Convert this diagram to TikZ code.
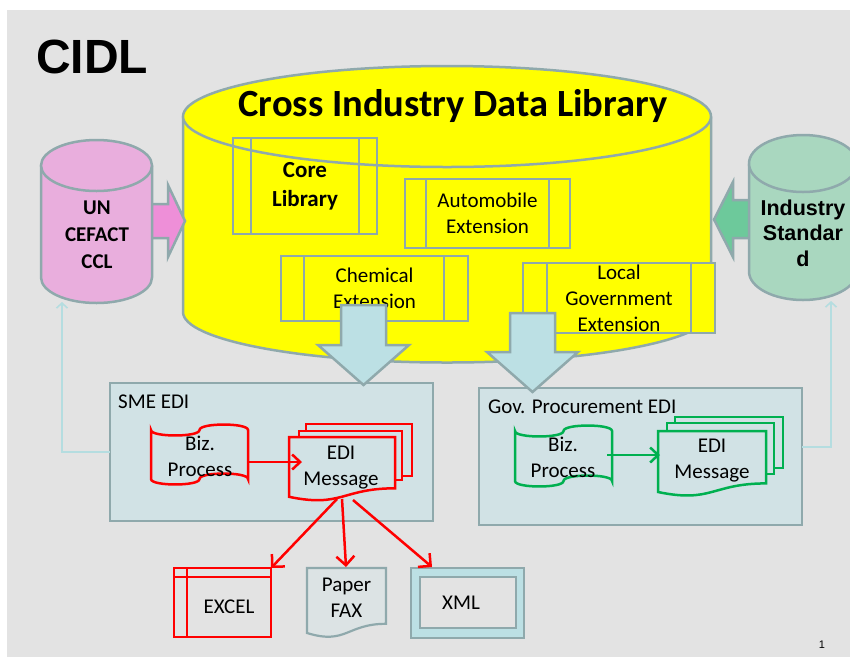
\documentclass[tikz,border=0pt]{standalone}
\usepackage{fontspec}
\setmainfont{Carlito}
\newfontfamily\arialfont{Liberation Sans}
\usetikzlibrary{arrows.meta}

\definecolor{slide}{HTML}{E3E3E3}
\definecolor{rim}{HTML}{8FA9AC}
\definecolor{libyellow}{HTML}{FFFF00}
\definecolor{ccl}{HTML}{E9AEDD}
\definecolor{cclarrow}{HTML}{EE8FD8}
\definecolor{indcyl}{HTML}{A9D7BF}
\definecolor{indarrow}{HTML}{6DC99B}
\definecolor{flowblue}{HTML}{BCE0E4}
\definecolor{edibox}{HTML}{D1E2E5}
\definecolor{edigreen}{HTML}{00B050}
\definecolor{feedback}{HTML}{B5DDE0}
\definecolor{paper}{HTML}{DCE3E4}

\begin{document}
\begin{tikzpicture}[x=1pt,y=-1pt,
  rimline/.style={draw=rim, line width=2.5pt},
  body/.style={font=\fontsize{21}{26}\selectfont, align=center, inner sep=0pt},
  bodybold/.style={font=\bfseries\fontsize{21}{27}\selectfont, align=center, inner sep=0pt},
  libbox/.style={rimline, fill=libyellow, inner sep=0pt, outer sep=0pt, align=center,
                 font=\fontsize{21}{26}\selectfont},
  edipanel/.style={rimline, fill=edibox, inner sep=0pt, outer sep=0pt},
  redline/.style={draw=red, line width=2.5pt},
  greenline/.style={draw=edigreen, line width=2.5pt},
  redarrow/.style={red, line width=2.5pt, -{Straight Barb[length=9pt,width=18pt]}},
  backlink/.style={feedback, line width=1.6pt, -{Straight Barb[length=5pt,width=11pt]}},
  bigarrow/.style={rimline, fill=flowblue}
]
\useasboundingbox (0,0) rectangle (850,657);
\fill[white] (0,0) rectangle (850,657);
\fill[slide] (7,10) rectangle (850,657);

% slide title
\node[font=\arialfont\bfseries\fontsize{48}{50}\selectfont, inner sep=0pt] (cidl) at (92,57) {CIDL};

% ---------- Cross Industry Data Library cylinder ----------
\fill[libyellow] (183,116.5) -- (183,312)
  arc[start angle=180, end angle=0, x radius=264, y radius=50.5] -- (711,116.5) -- cycle;
\draw[rimline] (183,116.5) -- (183,312)
  arc[start angle=180, end angle=0, x radius=264, y radius=50.5] -- (711,116.5);
\fill[libyellow] (447,116.5) ellipse[x radius=264, y radius=50.5];

\node[libbox, minimum width=144pt, minimum height=96pt, font=\bfseries\fontsize{23}{29}\selectfont]
  (core) at (305,186) {Core\\Library};
\node[libbox, minimum width=165pt, minimum height=69pt] (auto) at (487.5,213.5) {Automobile\\Extension};
\node[libbox, minimum width=187pt, minimum height=65pt] (chem) at (374.5,288.5) {Chemical\\Extension};
\node[libbox, minimum width=192pt, minimum height=70pt] (local) at (619,298) {Local\\Government\\Extension};

\draw[rimline] ([xshift=18pt]core.north west) -- ([xshift=18pt]core.south west)
               ([xshift=-18pt]core.north east) -- ([xshift=-18pt]core.south east);
\draw[rimline] ([xshift=21pt]auto.north west) -- ([xshift=21pt]auto.south west)
               ([xshift=-21pt]auto.north east) -- ([xshift=-21pt]auto.south east);
\draw[rimline] ([xshift=23pt]chem.north west) -- ([xshift=23pt]chem.south west)
               ([xshift=-24pt]chem.north east) -- ([xshift=-24pt]chem.south east);
\draw[rimline] ([xshift=24pt]local.north west) -- ([xshift=24pt]local.south west)
               ([xshift=-24pt]local.north east) -- ([xshift=-24pt]local.south east);

\draw[rimline] (447,116.5) ellipse[x radius=264, y radius=50.5];
\node[font=\bfseries\fontsize{38.5}{41}\selectfont, inner sep=0pt] (cidltitle) at (453,106)
  {Cross Industry Data Library};

% ---------- UN/CEFACT CCL cylinder and its arrow ----------
\draw[rimline, fill=cclarrow] (150,204) -- (168,204) -- (168,185) -- (185,221)
  -- (168,257) -- (168,238) -- (150,238);
\fill[ccl] (41,165.5) -- (41,277.5)
  arc[start angle=180, end angle=0, x radius=55.5, y radius=25.5] -- (152,165.5) -- cycle;
\draw[rimline] (41,165.5) -- (41,277.5)
  arc[start angle=180, end angle=0, x radius=55.5, y radius=25.5] -- (152,165.5);
\draw[rimline, fill=ccl] (96.5,165.5) ellipse[x radius=55.5, y radius=25.5];
\node[bodybold] (ccltext) at (97,235) {UN\\CEFACT\\CCL};
\coordinate (cclbottom) at (62,302);

% ---------- Industry Standard cylinder and its arrow ----------
\draw[rimline, fill=indarrow] (751,200) -- (733,200) -- (733,182) -- (714,219.5)
  -- (733,257) -- (733,238) -- (751,238);
\begin{scope}
\clip (7,10) rectangle (850,657);
\fill[indcyl] (749,163.5) -- (749,271.5)
  arc[start angle=180, end angle=0, x radius=54, y radius=28.5] -- (857,163.5) -- cycle;
\draw[rimline] (749,163.5) -- (749,271.5)
  arc[start angle=180, end angle=0, x radius=54, y radius=28.5] -- (857,163.5);
\draw[rimline, fill=indcyl] (803,163.5) ellipse[x radius=54, y radius=28.5];
\end{scope}
\node[font=\arialfont\bfseries\fontsize{21.5}{25.5}\selectfont, align=center, inner sep=0pt]
  (indtext) at (803,233) {Industry\\Standar\\d};
\coordinate (indbottom) at (831,301);

% ---------- EDI panels ----------
\node[edipanel, minimum width=323pt, minimum height=138pt] (sme) at (271.5,452) {};
\node[edipanel, minimum width=323pt, minimum height=137pt] (gov) at (640.5,456.5) {};
\node[body, anchor=west] (smelabel) at (118,402) {SME EDI};
\node[body, anchor=west] (govlabel) at (488,407) {Gov. Procurement EDI};

% flow from the library into the EDI panels
\draw[bigarrow] (341,305) -- (386,305) -- (386,345) -- (409,345) -- (363.5,385)
  -- (318,345) -- (341,345) -- cycle;
\draw[bigarrow] (510,313) -- (555,313) -- (555,352) -- (578,352) -- (532.5,392)
  -- (487,352) -- (510,352) -- cycle;

% feedback links to the source libraries
\coordinate (govright) at (802,447);
\draw[backlink] (sme.west) -| (cclbottom);
\draw[backlink] (govright) -| (indbottom);

% ---------- SME EDI content (red) ----------
\draw[redline, fill=edibox] (151,430) .. controls (151,437.3) and (199.5,437.3) .. (199.5,430)
  .. controls (199.5,422.7) and (248,422.7) .. (248,430) -- (248,479)
  .. controls (248,471.7) and (199.5,471.7) .. (199.5,479)
  .. controls (199.5,486.3) and (151,486.3) .. (151,479) -- cycle;
\node[body] (smebiz) at (200,456.5) {Biz.\\Process};

\draw[redline, fill=edibox] (306,424) rectangle (412,476);
\draw[redline, fill=edibox] (299,431) rectangle (402,480);
\draw[redline, fill=edibox] (289,437) -- (395,437) -- (395,488.3)
  .. controls (342,488.3) and (342,507.9) .. (289,496.8) -- cycle;
\node[body] (smemsg) at (341,467.5) {EDI\\Message};

\coordinate (smebizout) at (248,462);
\coordinate (smemsgin) at (302,462);
\draw[red, line width=2.5pt, -{Straight Barb[length=8pt,width=15pt]}] (smebizout) -- (smemsgin);

% ---------- Gov. Procurement EDI content (green) ----------
\draw[greenline, fill=edibox] (515,431) .. controls (515,438.3) and (563.5,438.3) .. (563.5,431)
  .. controls (563.5,423.7) and (612,423.7) .. (612,431) -- (612,481)
  .. controls (612,473.7) and (563.5,473.7) .. (563.5,481)
  .. controls (563.5,488.3) and (515,488.3) .. (515,481) -- cycle;
\node[body] (govbiz) at (563,457) {Biz.\\Process};

\draw[greenline, fill=edibox] (675,417) rectangle (783,468);
\draw[greenline, fill=edibox] (667,423) rectangle (774,474);
\draw[greenline, fill=edibox] (658,431) -- (766,431) -- (766,483.4)
  .. controls (712,483.4) and (712,503.3) .. (658,492) -- cycle;
\node[body] (govmsg) at (712,461) {EDI\\Message};

\coordinate (govbizout) at (607,455);
\coordinate (govmsgin) at (660,455);
\draw[edigreen, line width=2.5pt, -{Straight Barb[length=8pt,width=15pt]}] (govbizout) -- (govmsgin);

% ---------- output formats ----------
\node[draw=red, line width=2.5pt, inner sep=0pt, outer sep=0pt,
      minimum width=97pt, minimum height=69pt] (excel) at (222.5,602.5) {};
\draw[redline] (187,568) -- (187,637) (174,577) -- (271,577);
\node[body] (exceltext) at (229,607) {EXCEL};

\draw[rimline, line width=2.2pt, fill=paper] (307,568) -- (386,568) -- (386,623.8)
  .. controls (346.5,623.8) and (346.5,645.1) .. (307,633) -- cycle;
\node[body] (fax) at (346.5,597.5) {Paper\\FAX};
\coordinate (faxin) at (346,567);

\node[rimline, line width=2.2pt, fill=flowblue, inner sep=0pt, outer sep=0pt,
      minimum width=113pt, minimum height=70pt] (xml) at (467.5,603) {};
\node[rimline, line width=2.2pt, fill=slide, inner sep=0pt, outer sep=0pt,
      minimum width=96pt, minimum height=51pt] (xmlinner) at (468,602.5) {};
\node[body] (xmltext) at (461,603) {XML};
\coordinate (xmlin) at (432,567);

\coordinate (msgout1) at (337,499);
\coordinate (msgout2) at (342,499);
\coordinate (msgout3) at (353,500);
\draw[redarrow] (msgout1) -- (excel.north east);
\draw[redarrow] (msgout2) -- (faxin);
\draw[redarrow] (msgout3) -- (xmlin);

% page number
\node[font=\arialfont\fontsize{11}{12}\selectfont, inner sep=0pt] (pagenum) at (822,645) {1};
\end{tikzpicture}
\end{document}
